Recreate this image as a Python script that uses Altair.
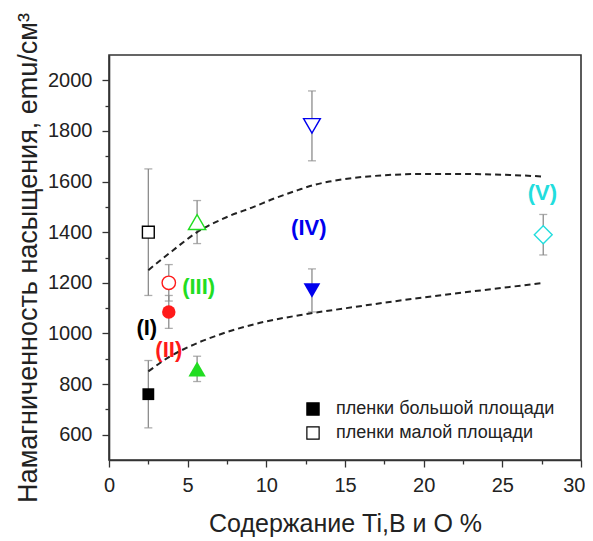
import altair as alt
import pandas as pd

# ---- data ----
series = ["(I)", "(II)", "(III)", "(IV)", "(V)"]
conc = [2.5, 3.8, 5.6, 12.9, 27.6]
series_colors = ["#000000", "#ff1a1a", "#22dd22", "#0000ee", "#22dddd"]
filled_shapes = ["square", "circle", "triangle-up", "triangle-down", "diamond"]
open_shapes = ["square", "circle", "triangle-up", "triangle-down", "diamond"]
sizes = [140, 180, 300, 280, 320]

# large-area films (filled symbols) — series I..IV
large_ms = [760, 1085, 860, 1170]
large_err = [133, 65, 50, 85]
# small-area films (open symbols) — series I..V
small_ms = [1400, 1200, 1440, 1820, 1390]
small_err = [250, 72, 85, 138, 80]

# annotation label anchors (data coordinates)
label_x = [2.4, 3.8, 5.7, 12.7, 27.55]
label_y = [1020, 935, 1185, 1415, 1555]

# dashed guide curves
upper_x = [2.5, 4, 5.6, 7.5, 9.2, 10.5, 12, 13, 14, 15, 17.5, 20, 22.5, 25, 27.6]
upper_y = [1250, 1325, 1400, 1460, 1500, 1533, 1566, 1586, 1600, 1610, 1625, 1630, 1630, 1627, 1620]
lower_x = [2.5, 3.9, 5, 7, 9.6, 12.1, 15.1, 18.5, 22, 25, 27.6]
lower_y = [850, 910, 945, 995, 1042, 1072, 1100, 1130, 1158, 1180, 1200]

legend_labels = ["пленки большой площади", "пленки малой площади"]

# ---- tables ----
rows = []
for i in range(4):
    rows.append(dict(x=conc[i], y=large_ms[i], err=large_err[i], shape=filled_shapes[i],
                     color=series_colors[i], size=sizes[i], filled=True))
for i in range(5):
    rows.append(dict(x=conc[i], y=small_ms[i], err=small_err[i], shape=open_shapes[i],
                     color=series_colors[i], size=sizes[i], filled=False))
pts = pd.DataFrame(rows)
pts["ylo"] = pts["y"] - pts["err"]
pts["yhi"] = pts["y"] + pts["err"]
caps = pd.concat([
    pd.DataFrame({"x": pts["x"], "yc": pts["ylo"]}),
    pd.DataFrame({"x": pts["x"], "yc": pts["yhi"]}),
])
curves = pd.concat([
    pd.DataFrame({"x": upper_x, "y": upper_y, "c": "upper"}),
    pd.DataFrame({"x": lower_x, "y": lower_y, "c": "lower"}),
])
labels = pd.DataFrame({"x": label_x, "y": label_y, "t": series, "color": series_colors})
leg = pd.DataFrame({"x": [10, 10], "y": [700, 700], "kind": legend_labels})

FONT = "Liberation Sans"
TXT = "#222222"

x_axis = alt.Axis(
    title="Содержание Ti,B и O %",
    values=[i * 2.5 for i in range(13)],
    labelExpr="datum.value % 5 === 0 ? datum.label : ''",
    tickSize={"condition": {"test": "datum.value % 5 === 0", "value": 7}, "value": 4},
    labelAlign={"condition": {"test": "datum.value >= 30", "value": "right"}, "value": "center"},
    labelOffset={"condition": {"test": "datum.value >= 30", "value": 4}, "value": 0},
    grid=False, labelFontSize=20, titleFontSize=25, titleFontWeight="normal",
    labelColor=TXT, titleColor=TXT, labelFont=FONT, titleFont=FONT,
    domainColor="#333333", domainWidth=1.6, tickColor="#333333", tickWidth=1.3,
    labelPadding=8, titlePadding=16, labelFlush=False, labelOverlap=False,
)
y_axis = alt.Axis(
    title="Намагниченность насыщения, emu/см³",
    values=[600 + 100 * i for i in range(15)],
    labelExpr="datum.value % 200 === 0 ? datum.label : ''",
    tickSize={"condition": {"test": "datum.value % 200 === 0", "value": 7}, "value": 4},
    grid=False, labelFontSize=20, titleFontSize=27, titleFontWeight="normal",
    labelColor=TXT, titleColor=TXT, labelFont=FONT, titleFont=FONT,
    domainColor="#333333", domainWidth=1.6, tickColor="#333333", tickWidth=1.3,
    labelPadding=10, titlePadding=5, labelFlush=False, labelOverlap=False, format="d",
)
xs = alt.Scale(domain=[0, 30], nice=False, zero=False)
ys = alt.Scale(domain=[500, 2100], nice=False, zero=False)


def X(f):
    return alt.X(f"{f}:Q", scale=xs, axis=x_axis)


def Y(f):
    return alt.Y(f"{f}:Q", scale=ys, axis=y_axis)


err_rules = alt.Chart(pts).mark_rule(color="#8c8c8c", strokeWidth=1.3).encode(
    x=X("x"), y=Y("ylo"), y2="yhi")
err_caps = alt.Chart(caps).mark_tick(color="#8c8c8c", orient="horizontal", size=8, thickness=1.3).encode(
    x=X("x"), y=Y("yc"))
lines = alt.Chart(curves).mark_line(color="#222222", strokeWidth=2, strokeDash=[6, 4],
                                    interpolate="monotone").encode(
    x=X("x"), y=Y("y"), detail="c:N")
open_pts = alt.Chart(pts).transform_filter("!datum.filled").mark_point(
    filled=False, strokeWidth=1.4, opacity=1, fill="white", fillOpacity=1).encode(
    x=X("x"), y=Y("y"),
    shape=alt.Shape("shape:N", scale=None),
    stroke=alt.Stroke("color:N", scale=None),
    size=alt.Size("size:Q", scale=None))
filled_pts = alt.Chart(pts).transform_filter("datum.filled").mark_point(
    filled=True, opacity=1).encode(
    x=X("x"), y=Y("y"),
    shape=alt.Shape("shape:N", scale=None),
    color=alt.Color("color:N", scale=None),
    size=alt.Size("size:Q", scale=None))
texts = alt.Chart(labels).mark_text(font=FONT, fontSize=22, fontWeight="bold",
                                    align="center", baseline="middle").encode(
    x=X("x"), y=Y("y"), text="t:N", color=alt.Color("color:N", scale=None))
legend_layer = alt.Chart(leg).mark_point(size=0, filled=True, shape="square").encode(
    x=X("x"), y=Y("y"),
    fill=alt.Fill("kind:N", scale=alt.Scale(domain=legend_labels, range=["#000000", "#ffffff"]),
                  legend=alt.Legend(title=None, orient="none", legendX=195, legendY=345,
                                    symbolType="square", symbolSize=150, symbolStrokeColor="#000000",
                                    symbolStrokeWidth=1.2, symbolOpacity=1,
                                    labelFontSize=18, labelFont=FONT, labelColor=TXT,
                                    labelOffset=14, rowPadding=6, padding=0, labelLimit=400)))

chart = alt.layer(err_rules, err_caps, lines, open_pts, filled_pts, texts, legend_layer).properties(
    width=472, height=405,
    padding={"left": 101, "top": 47, "right": 4, "bottom": 81},
    autosize=alt.AutoSizeParams(type="none"),
    background="white",
).configure_view(stroke="#333333", strokeWidth=1.6)

chart.save("out.html", embed_options={"renderer": "svg", "actions": False})
